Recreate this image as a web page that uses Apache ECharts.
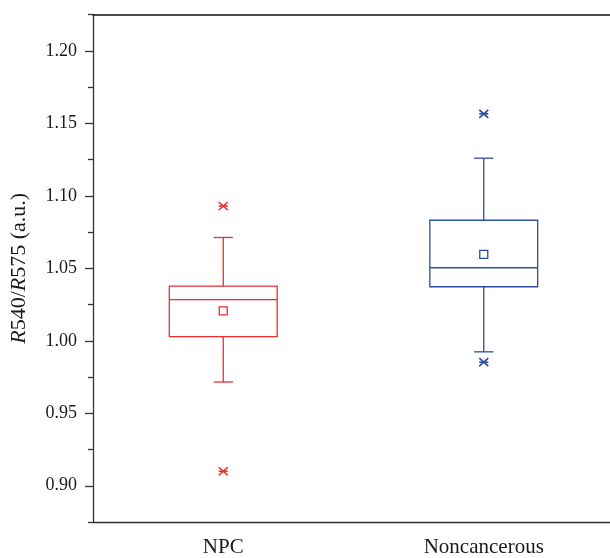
<!DOCTYPE html>
<html lang="en">

<head>
	<meta charset="UTF-8">
	<title>R540/R575 boxplot</title>
	<script src="https://cdn.jsdelivr.net/npm/echarts@6/dist/echarts.min.js"></script>
	<style>
		html, body { margin: 0; padding: 0; background: #fff; overflow: hidden; }
	</style>
</head>

<body>
	<!-- the plot frame runs off the right edge in the original, so the canvas is a bit wider than the window -->
	<div id="main" style="width: 614px;height: 558px;"></div>
</body>

<script>
	// groups on the x axis
	const categories = ['NPC', 'Noncancerous']

	// box statistics
	const whiskerLow = [0.9716, 0.9924]
	const q1 = [1.0029, 1.0373]
	const median = [1.0284, 1.0504]
	const q3 = [1.0378, 1.0832]
	const whiskerHigh = [1.0713, 1.1260]
	const mean = [1.0206, 1.0596]
	// outliers, per group
	const outliers = [[0.910, 1.093], [0.9853, 1.1566]]

	// y axis ticks
	const majorTicks = [0.90, 0.95, 1.00, 1.05, 1.10, 1.15, 1.20]
	const minorTicks = [0.875, 0.925, 0.975, 1.025, 1.075, 1.125, 1.175, 1.225]

	const colors = ['#ef2b2f', '#2f4c9e']
	const font = '"Liberation Serif", "DejaVu Serif", serif'

	let chart = echarts.init(document.getElementById('main'))

	const boxData = categories.map((c, i) => [i, whiskerLow[i], q1[i], median[i], q3[i], whiskerHigh[i], mean[i]])
	const outlierData = []
	outliers.forEach((arr, i) => arr.forEach(v => outlierData.push([i, v])))

	function renderBox(params, api) {
		const i = api.value(0)
		const band = api.size([1, 0])[0]
		const half = band * 0.207
		const cap = band * 0.037
		const pLow = api.coord([i, api.value(1)])
		const pQ1 = api.coord([i, api.value(2)])
		const pMed = api.coord([i, api.value(3)])
		const pQ3 = api.coord([i, api.value(4)])
		const pHigh = api.coord([i, api.value(5)])
		const pMean = api.coord([i, api.value(6)])
		const x = pQ1[0]
		const style = { stroke: colors[i], lineWidth: 1.3, fill: null }
		return {
			type: 'group',
			children: [
				{ type: 'rect', shape: { x: x - half, y: pQ3[1], width: half * 2, height: pQ1[1] - pQ3[1] }, style: style },
				{ type: 'line', shape: { x1: x - half, y1: pMed[1], x2: x + half, y2: pMed[1] }, style: style },
				{ type: 'line', shape: { x1: x, y1: pQ3[1], x2: x, y2: pHigh[1] }, style: style },
				{ type: 'line', shape: { x1: x, y1: pQ1[1], x2: x, y2: pLow[1] }, style: style },
				{ type: 'line', shape: { x1: x - cap, y1: pHigh[1], x2: x + cap, y2: pHigh[1] }, style: style },
				{ type: 'line', shape: { x1: x - cap, y1: pLow[1], x2: x + cap, y2: pLow[1] }, style: style },
				{ type: 'rect', shape: { x: x - 4, y: pMean[1] - 4, width: 8, height: 8 }, style: style }
			]
		}
	}

	function renderOutlier(params, api) {
		const i = api.value(0)
		const p = api.coord([i, api.value(1)])
		const style = { stroke: colors[i], lineWidth: 1.6 }
		const w = 4.5, h = 4
		return {
			type: 'group',
			children: [
				{ type: 'line', shape: { x1: p[0] - w, y1: p[1] - h, x2: p[0] + w, y2: p[1] + h }, style: style },
				{ type: 'line', shape: { x1: p[0] - w, y1: p[1] + h, x2: p[0] + w, y2: p[1] - h }, style: style },
				{ type: 'line', shape: { x1: p[0] - w, y1: p[1], x2: p[0] + w, y2: p[1] }, style: style }
			]
		}
	}

	let option = {
		animation: false,
		grid: { left: 92.5, top: 14.7, right: 0, bottom: 35.3 },
		xAxis: [
			{
				type: 'category',
				data: categories,
				axisLine: { lineStyle: { color: '#333', width: 1.3 } },
				axisTick: { alignWithLabel: true, length: 8, lineStyle: { color: '#333', width: 1.3 } },
				axisLabel: { fontFamily: font, fontSize: 21, color: '#1a1a1a', margin: 15 }
			},
			{
				type: 'category',
				data: categories,
				position: 'top',
				axisLine: { lineStyle: { color: '#111', width: 1.5 } },
				axisTick: { show: false },
				axisLabel: { show: false }
			}
		],
		yAxis: [
			{
				type: 'value',
				min: 0.875,
				max: 1.225,
				splitLine: { show: false },
				axisLine: { show: true, lineStyle: { color: '#333', width: 1.3 } },
				axisTick: { show: true, length: 8, customValues: majorTicks, lineStyle: { color: '#333', width: 1.3 } },
				axisLabel: {
					customValues: majorTicks,
					formatter: v => v.toFixed(2),
					fontFamily: font, fontSize: 18, color: '#1a1a1a', margin: 16
				},
				name: '{i|R}540/{i|R}575 (a.u.)',
				nameLocation: 'middle',
				nameRotate: 90,
				nameGap: 63,
				nameTextStyle: {
					fontFamily: font, fontSize: 22, color: '#1a1a1a',
					rich: { i: { fontStyle: 'italic', fontFamily: font, fontSize: 22, color: '#1a1a1a' } }
				}
			},
			{
				// minor ticks
				type: 'value',
				min: 0.875,
				max: 1.225,
				position: 'left',
				splitLine: { show: false },
				axisLine: { show: false },
				axisTick: { show: true, length: 5, customValues: minorTicks, lineStyle: { color: '#333', width: 1.3 } },
				axisLabel: { show: false }
			}
		],
		series: [
			{
				type: 'custom',
				renderItem: renderBox,
				data: boxData,
				encode: { x: 0, y: [1, 2, 3, 4, 5, 6] },
				z: 5
			},
			{
				type: 'custom',
				renderItem: renderOutlier,
				data: outlierData,
				encode: { x: 0, y: 1 },
				z: 5
			}
		]
	}

	chart.setOption(option)
</script>

</html>
